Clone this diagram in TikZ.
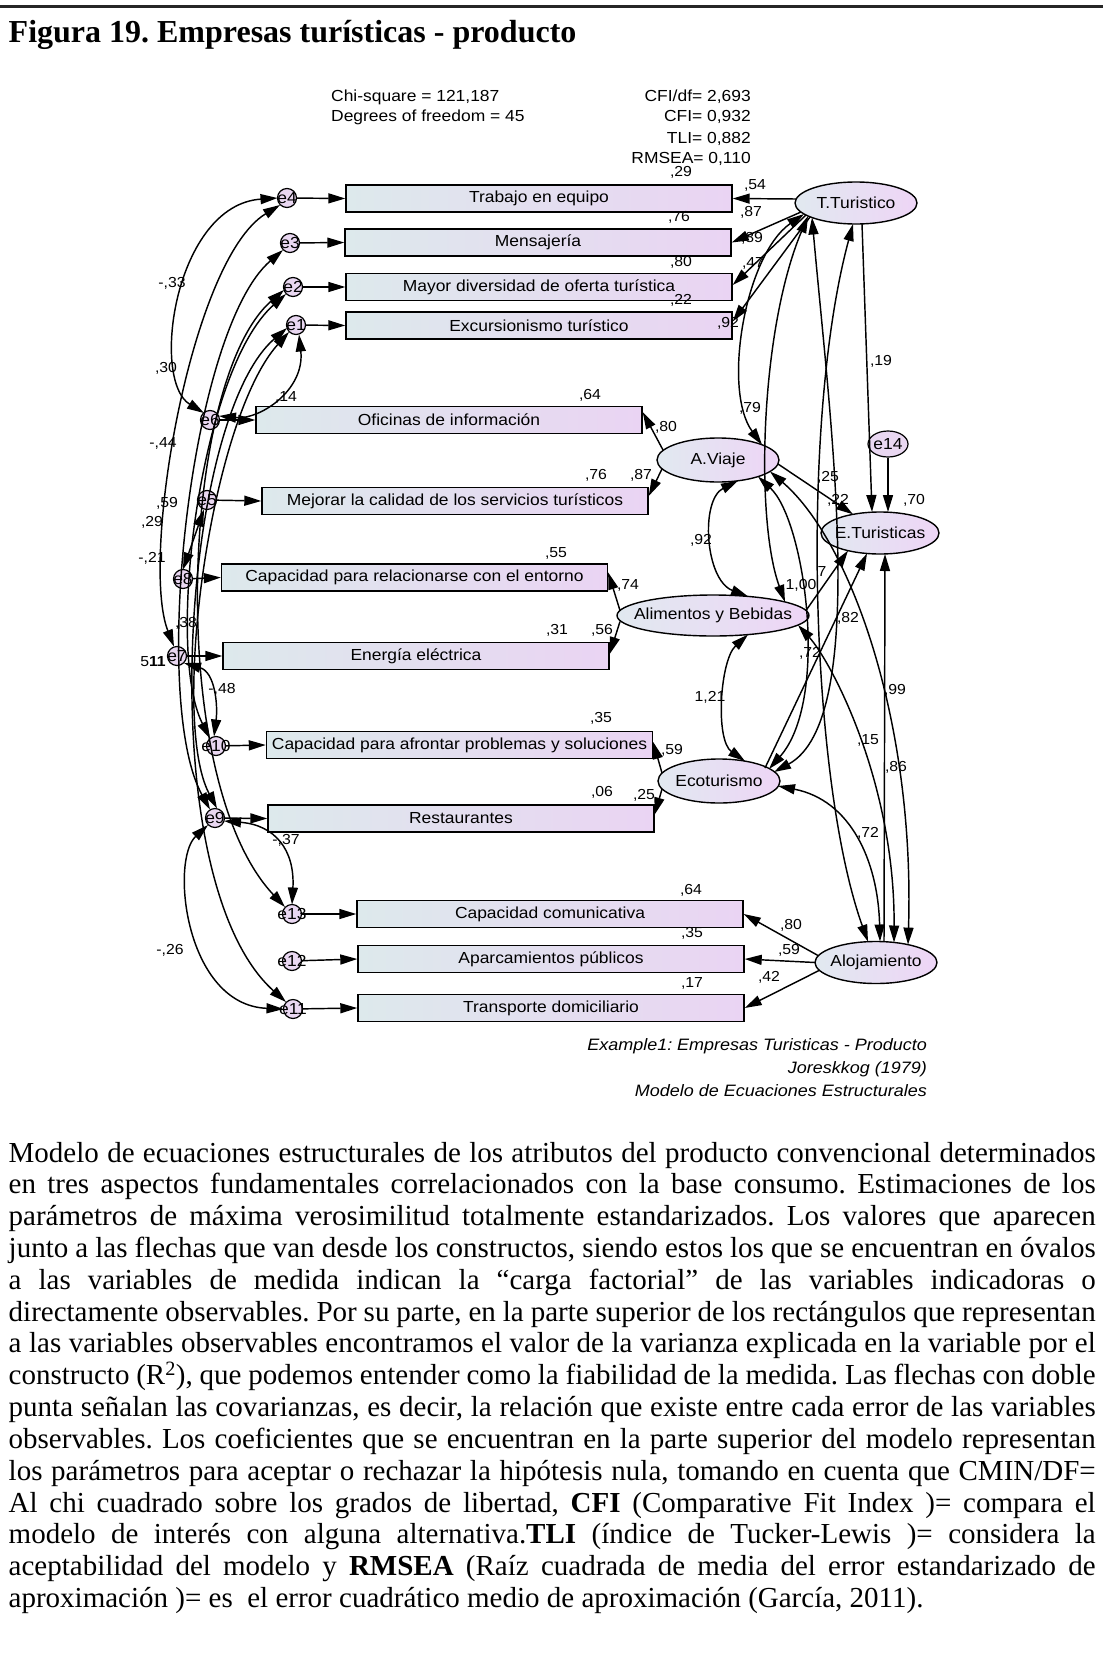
\documentclass[tikz,border=0pt]{standalone}
\usepackage{fontspec}
\setmainfont{Liberation Serif}
\newfontfamily\dgmfont[FakeStretch=1.09]{Liberation Sans}
\usetikzlibrary{arrows.meta,calc,shapes.geometric}
\frenchspacing
\definecolor{obsL}{RGB}{221,233,236}
\definecolor{obsR}{RGB}{234,212,243}
\definecolor{latL}{RGB}{225,233,240}
\definecolor{latR}{RGB}{238,213,246}
\definecolor{errC}{RGB}{233,215,241}
\tikzset{
  dlbl/.style={font=\dgmfont\fontsize{16}{19}\selectfont, inner sep=0pt},
  num/.style={font=\dgmfont\fontsize{14.5}{17}\selectfont, inner sep=0pt},
  obs/.style={draw, line width=1.4pt, minimum width=386pt, minimum height=27pt, inner sep=0pt, left color=obsL, right color=obsR, dlbl},
  lat/.style={ellipse, draw, line width=1.4pt, inner sep=0pt, left color=latL, right color=latR},
  err/.style={circle, draw, line width=1.2pt, minimum size=19pt, inner sep=0pt, fill=errC},
  >={Triangle[length=17pt,width=10pt]},
  arr/.style={line width=1.45pt, ->},
  cov/.style={line width=1.45pt, <->},
}
\begin{document}
\begin{tikzpicture}[x=1pt,y=-1pt]
\useasboundingbox (0,0) rectangle (1103,1667);
\fill[white] (0,0) rectangle (1103,1667);
\draw[line width=2.6pt, black!85] (0,6.5) -- (1103,6.5);

% title
\node[anchor=base west, inner sep=0pt, font=\bfseries\fontsize{32}{36}\selectfont] (title) at (8.5,43) {Figura 19. Empresas turísticas - producto};

% fit statistics
\node[dlbl, anchor=base west] (chi) at (331,101.5) {Chi-square = 121,187};
\node[dlbl, anchor=base west] (dof) at (331,122) {Degrees of freedom = 45};
\node[dlbl, anchor=base east] (cmin) at (751,101.5) {CFI/df= 2,693};
\node[dlbl, anchor=base east] (cfi) at (751,122) {CFI= 0,932};
\node[dlbl, anchor=base east] (tli) at (751,143) {TLI= 0,882};
\node[dlbl, anchor=base east] (rmsea) at (751,164) {RMSEA= 0,110};

% observed variables
\node[obs] (trab)  at (539,198.5) {Trabajo en equipo};
\node[obs] (mens)  at (538,242.5) {Mensajería};
\node[obs] (mayor) at (539,287)   {Mayor diversidad de oferta turística};
\node[obs] (excur) at (539,325.5) {Excursionismo turístico};
\node[obs] (ofic)  at (449,420)   {Oficinas de información};
\node[obs] (mejor) at (455,501)   {Mejorar la calidad de los servicios turísticos};
\node[obs] (relac) at (414.5,577.5) {Capacidad para relacionarse con el entorno};
\node[obs] (energ) at (416,656)   {Energía eléctrica};
\node[obs] (afron) at (459.5,745) {Capacidad para afrontar problemas y soluciones};
\node[obs] (resta) at (461,818.5) {Restaurantes};
\node[obs] (comun) at (550,914)   {Capacidad comunicativa};
\node[obs] (aparc) at (551,959)   {Aparcamientos públicos};
\node[obs] (trans) at (551,1008)  {Transporte domiciliario};

% latent variables
\node[lat, minimum width=122pt, minimum height=42pt] (TT) at (856,203) {};
\node[lat, minimum width=122pt, minimum height=44pt] (AV) at (718,460) {};
\node[lat, minimum width=118pt, minimum height=42pt] (ET) at (880,533) {};
\node[lat, minimum width=192pt, minimum height=41pt] (AB) at (713,615.5) {};
\node[lat, minimum width=122pt, minimum height=44pt] (EC) at (719,781) {};
\node[lat, minimum width=122pt, minimum height=42pt] (AL) at (876,962.5) {};
\node[ellipse, draw, line width=1.2pt, fill=errC, minimum width=40pt, minimum height=26pt, inner sep=0pt] (e14) at (888,444) {};
\node[dlbl] (TTt) at (TT) {T.Turistico};
\node[dlbl] (AVt) at (AV) {A.Viaje};
\node[dlbl] (ETt) at (ET) {E.Turisticas};
\node[dlbl] (ABt) at (AB) {Alimentos y Bebidas};
\node[dlbl] (ECt) at (EC) {Ecoturismo};
\node[dlbl] (ALt) at (AL) {Alojamiento};
\node[dlbl] (e14t) at (e14) {e14};

% error terms
\foreach \n/\x/\y in {e4/287/198, e3/290/243, e2/293/287, e1/296/325, e6/210/420,
  e5/207/500, e8/183/579, e7/177/656, e10/216/746, e9/215/818, e13/292/914,
  e12/292/961, e11/293/1009}
  \node[err] (\n) at (\x,\y) {};
\foreach \n in {e4,e3,e2,e1,e6,e5,e8,e7,e10,e9,e13,e12,e11}
  \node[dlbl] (\n t) at (\n) {\n};

% errors to indicators
\draw[arr] (e4) -- (trab.west);
\draw[arr] (e3) -- (mens.west);
\draw[arr] (e2) -- (mayor.west);
\draw[arr] (e1) -- (excur.west);
\draw[arr] (e6) -- (ofic.west);
\draw[arr] (e5) -- (mejor.west);
\draw[arr] (e8) -- (relac.west);
\draw[arr] (e7) -- (energ.west);
\draw[arr] (e10) -- (afron.west);
\draw[arr] (e9) -- (resta.west);
\draw[arr] (e13) -- (comun.west);
\draw[arr] (e12) -- (aparc.west);
\draw[arr] (e11) -- (trans.west);

% factor loadings
\draw[arr] ($(TT)+(-60,-4)$) -- (trab.east);
\draw[arr] ($(TT)+(-55,9)$) -- (mens.east);
\draw[arr] ($(TT)+(-50,12)$) -- ($(mayor.east)+(0,-2)$);
\draw[arr] ($(TT)+(-46,14)$) -- ($(excur.east)+(0,-4)$);
\draw[arr] ($(AV)+(-55,-10)$) -- ($(ofic.east)+(0,-8)$);
\draw[arr] ($(AV)+(-56,9)$) -- ($(mejor.east)+(0,-5)$);
\draw[arr] ($(AB)+(-93,-5)$) -- ($(relac.east)+(0,-5)$);
\draw[arr] ($(AB)+(-93,6)$) -- ($(energ.east)+(0,-2)$);
\draw[arr] ($(EC)+(-57,-8)$) -- ($(afron.east)+(0,-3)$);
\draw[arr] ($(EC)+(-57,8)$) -- ($(resta.east)+(0,-4)$);
\draw[arr] ($(AL)+(-58,-7)$) -- (comun.east);
\draw[arr] ($(AL)+(-61,0)$) -- (aparc.east);
\draw[arr] ($(AL)+(-57,8)$) -- (trans.east);

% structural paths
\draw[arr] ($(TT)+(6,21)$) -- ($(ET)+(-8,-21)$);
\draw[arr] (e14) -- ($(ET)+(8,-21)$);
\draw[arr] ($(AV)+(60,4)$) -- ($(ET)+(-27,-18.7)$);
\draw[arr] ($(AB)+(93,-5)$) -- ($(ET)+(-32,17.6)$);
\draw[arr] ($(EC)+(46,-13)$) -- ($(ET)+(-13,20.5)$);
\draw[arr] ($(AL)+(8,-21)$) -- ($(ET)+(5,21)$);

% covariances between constructs
\draw[cov] ($(TT)+(-52,11)$) .. controls (745,255) and (722,390) .. ($(AV)+(44,-15.2)$);
\draw[cov] ($(AV)+(20,20.8)$) .. controls (700,500) and (705,580) .. ($(AB)+(35,-19.1)$);
\draw[cov] ($(AB)+(35,19.1)$) .. controls (720,660) and (715,740) .. ($(EC)+(26,-19.9)$);
\draw[cov] ($(EC)+(59,5)$) .. controls (850,800) and (878,860) .. ($(AL)+(4,-21)$);
\draw[cov] ($(TT)+(-48,13)$) .. controls (760,330) and (755,520) .. ($(AB)+(72,-13.6)$);
\draw[cov] ($(TT)+(-44,14.5)$) .. controls (830,420) and (870,720) .. ($(EC)+(55,-9)$);
\draw[cov] ($(TT)+(-3,21)$) .. controls (800,420) and (810,780) .. ($(AL)+(-8,-20.8)$);
\draw[cov] ($(AV)+(40,16.6)$) .. controls (805,520) and (830,700) .. ($(EC)+(50,-12)$);
\draw[cov] ($(AV)+(52,11.5)$) .. controls (850,540) and (915,720) .. ($(AL)+(32,-17.9)$);
\draw[cov] ($(AB)+(85,9.5)$) .. controls (830,660) and (895,780) .. ($(AL)+(18,-20)$);

% covariances between error terms
\draw[cov] ($(e4)+(-9.5,0)$) .. controls (175,205) and (150,380) .. ($(e6)+(-6,-7)$);
\draw[cov] ($(e1)+(3,9.5)$) .. controls (305,390) and (260,420) .. ($(e6)+(9,-4)$);
\draw[cov] ($(e5)+(-3,9.5)$) -- ($(e8)+(0,-9.5)$);
\draw[cov] ($(e7)+(7,7)$) .. controls (215,672) and (218,705) .. ($(e10)+(-2,-9.5)$);
\draw[cov] ($(e9)+(9,3)$) .. controls (275,825) and (295,850) .. ($(e13)+(0,-9.5)$);
\draw[cov] ($(e9)+(-7,7)$) .. controls (170,860) and (185,1005) .. ($(e11)+(-9.5,0)$);
\draw[cov] ($(e4)+(-7,7)$) .. controls (190,260) and (140,560) .. ($(e7)+(-3,-9.5)$);
\draw[cov] ($(e3)+(-7,7)$) .. controls (190,330) and (150,700) .. ($(e9)+(-5,-8.5)$);
\draw[cov] ($(e2)+(-7,7)$) .. controls (200,370) and (165,650) .. ($(e10)+(-6,-7.5)$);
\draw[cov] ($(e2)+(-9,3)$) .. controls (180,380) and (165,780) .. ($(e13)+(-7,-7)$);
\draw[cov] ($(e1)+(-7,7)$) .. controls (210,420) and (170,720) .. ($(e9)+(2,-9.5)$);
\draw[cov] ($(e1)+(-9,3)$) .. controls (180,420) and (150,880) .. ($(e11)+(-7,-7)$);

% squared multiple correlations
\node[num] (r1)  at (681,172) {,29};
\node[num] (r2)  at (679,217) {,76};
\node[num] (r3)  at (681,262) {,80};
\node[num] (r4)  at (681,300) {,22};
\node[num] (r5)  at (590,395) {,64};
\node[num] (r6)  at (596,475) {,76};
\node[num] (r7)  at (556,553) {,55};
\node[num] (r8)  at (557,630) {,31};
\node[num] (r9)  at (601,718) {,35};
\node[num] (r10) at (602,792) {,06};
\node[num] (r11) at (691,890) {,64};
\node[num] (r12) at (692,933) {,35};
\node[num] (r13) at (692,983) {,17};
\node[num] (r14) at (914,500) {,70};

% loadings
\node[num] (l1)  at (755,185) {,54};
\node[num] (l2)  at (751,212) {,87};
\node[num] (l3)  at (752,238) {,89};
\node[num] (l4)  at (753,263) {,47};
\node[num] (l5)  at (728,323) {,92};
\node[num] (l6)  at (666,427) {,80};
\node[num] (l7)  at (641,475) {,87};
\node[num] (l8)  at (628,585) {,74};
\node[num] (l9)  at (602,630) {,56};
\node[num] (l10) at (672,750) {,59};
\node[num] (l11) at (644,795) {,25};
\node[num] (l12) at (791,925) {,80};
\node[num] (l13) at (789,950) {,59};
\node[num] (l14) at (769,977) {,42};

% structural labels
\node[num] (s1)  at (881,361) {,19};
\node[num] (s2)  at (750,408) {,79};
\node[num] (s3)  at (701,540) {,92};
\node[num] (s4)  at (710,697) {1,21};
\node[num] (s5)  at (868,833) {,72};
\node[num] (s6)  at (868,740) {,15};
\node[num] (s7)  at (896,767) {,86};
\node[num] (s8)  at (895,690) {,99};
\node[num] (s9)  at (848,618) {,82};
\node[num] (s10) at (828,477) {,25};
\node[num] (s11) at (838,500) {,22};
\node[num] (s12) at (801,585) {1,00};
\node[num] (s13) at (822,572) {7};
\node[num] (s14) at (810,653) {,72};

% error covariance labels
\node[num] (c1)  at (172,283) {-,33};
\node[num] (c2)  at (166,368) {,30};
\node[num] (c3)  at (163,443) {-,44};
\node[num] (c4)  at (167,503) {,59};
\node[num] (c5)  at (152,522) {,29};
\node[num] (c6)  at (152,558) {-,21};
\node[num] (c7)  at (186,623) {,38};
\node[num] (c8)  at (153,662) {5{\bfseries 11}};
\node[num] (c10) at (222,689) {-,48};
\node[num] (c11) at (286,840) {-,37};
\node[num] (c12) at (170,950) {-,26};
\node[num] (c13) at (286,397) {,14};

% model caption
\node[dlbl, anchor=base east, font=\dgmfont\itshape\fontsize{16.5}{19}\selectfont] (cap1) at (927,1050.5) {Example1: Empresas Turisticas - Producto};
\node[dlbl, anchor=base east, font=\dgmfont\itshape\fontsize{16.5}{19}\selectfont] (cap2) at (927,1073.5) {Joreskkog (1979)};
\node[dlbl, anchor=base east, font=\dgmfont\itshape\fontsize{16.5}{19}\selectfont] (cap3) at (927,1096.5) {Modelo de Ecuaciones Estructurales};

% explanatory paragraph
\node[anchor=base west, inner sep=0pt, font=\fontsize{29}{31.83}\selectfont] (body) at (8.5,1162) {\vtop{\hsize=1087pt \baselineskip=31.83pt \lineskiplimit=-50pt
\hbox to\hsize{Modelo de ecuaciones estructurales de los atributos del producto convencional determinados}
\hbox to\hsize{en tres aspectos fundamentales correlacionados con la base consumo. Estimaciones de los}
\hbox to\hsize{parámetros de máxima verosimilitud totalmente estandarizados. Los valores que aparecen}
\hbox to\hsize{junto a las flechas que van desde los constructos, siendo estos los que se encuentran en óvalos}
\hbox to\hsize{a las variables de medida indican la “carga factorial” de las variables indicadoras o}
\hbox to\hsize{directamente observables. Por su parte, en la parte superior de los rectángulos que representan}
\hbox to\hsize{a las variables observables encontramos el valor de la varianza explicada en la variable por el}
\hbox to\hsize{constructo (R\textsuperscript{2}), que podemos entender como la fiabilidad de la medida. Las flechas con doble}
\hbox to\hsize{punta señalan las covarianzas, es decir, la relación que existe entre cada error de las variables}
\hbox to\hsize{observables. Los coeficientes que se encuentran en la parte superior del modelo representan}
\hbox to\hsize{los parámetros para aceptar o rechazar la hipótesis nula, tomando en cuenta que CMIN/DF=}
\hbox to\hsize{Al chi cuadrado sobre los grados de libertad, \textbf{CFI} (Comparative Fit Index )= compara el}
\hbox to\hsize{modelo de interés con alguna alternativa.\textbf{TLI} (índice de Tucker-Lewis )= considera la}
\hbox to\hsize{aceptabilidad del modelo y \textbf{RMSEA} (Raíz cuadrada de media del error estandarizado de}
\hbox{aproximación )= es\ \ el error cuadrático medio de aproximación (García, 2011).}
}};
\end{tikzpicture}
\end{document}
